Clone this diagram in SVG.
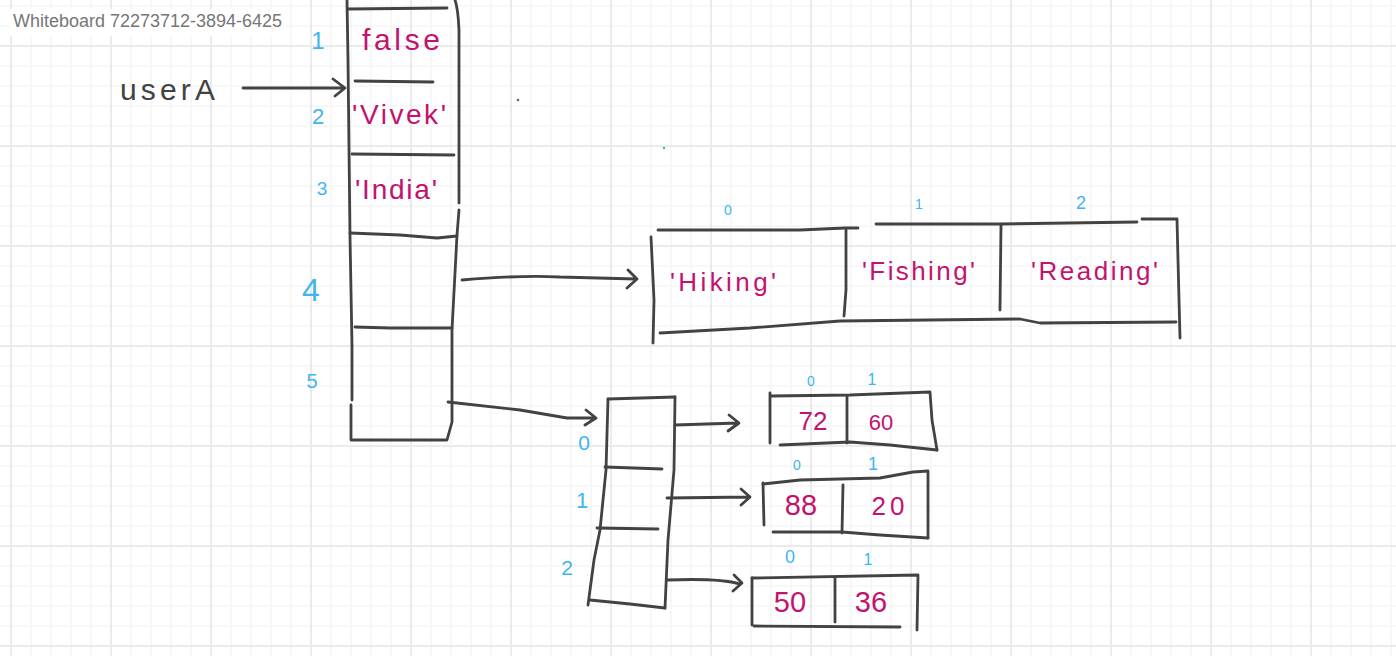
<svg xmlns="http://www.w3.org/2000/svg" width="1396" height="656" viewBox="0 0 1396 656">
<defs>
<pattern id="minor" x="10" y="5" width="20" height="20" patternUnits="userSpaceOnUse">
<path d="M0,1 H20 M1,0 V20" fill="none" stroke="#f5f5f5" stroke-width="1.6"/>
</pattern>
<pattern id="major" x="10" y="45" width="100" height="100" patternUnits="userSpaceOnUse">
<path d="M0,1 H100 M1,0 V100" fill="none" stroke="#ebebeb" stroke-width="2"/>
</pattern>
</defs>
<style>
.ink{fill:none;stroke:#424242;stroke-width:2.8;stroke-linecap:round;stroke-linejoin:round}
.val{fill:#c2136e;font-family:"Liberation Sans","Noto Sans",sans-serif}
.idx{fill:#40b5ef;font-family:"Liberation Sans","Noto Sans",sans-serif;text-anchor:middle}
.lbl{fill:#424242;font-family:"Liberation Sans","Noto Sans",sans-serif}
</style>
<rect width="1396" height="656" fill="#ffffff"/>
<rect width="1396" height="656" fill="url(#minor)"/>
<rect width="1396" height="656" fill="url(#major)"/>
<rect x="10" y="9" width="276" height="27" fill="#ffffff"/>
<text x="13" y="27" font-family="Liberation Sans, Arial, sans-serif" font-size="17.5" fill="#767676" textLength="269" lengthAdjust="spacingAndGlyphs">Whiteboard 72273712-3894-6425</text>
<circle cx="518" cy="100" r="1.3" fill="#666"/>
<circle cx="664" cy="148" r="1.2" fill="#5aa"/>

<g id="userA">
<text class="lbl" x="120" y="100" font-size="30" textLength="95" lengthAdjust="spacing">userA</text>
</g>

<g id="main-object">
<path class="ink" d="M347,0 L348,60 L350,237 L352,345 L352,400 M351,405 L351,440 L447,440 L452,422 L452,330 L457,235 L459,210 M459,203 L459,30 Q458,8 455,0"/>
<path class="ink" d="M348,9 L447,8"/>
<path class="ink" d="M355,81 L433,82"/>
<path class="ink" d="M352,154 L454,155"/>
<path class="ink" d="M350,233 L400,235 L437,238 L457,236"/>
<path class="ink" d="M355,327 L390,328 L452,328"/>
<text class="idx" x="318" y="49" font-size="24">1</text>
<text class="idx" x="318" y="124" font-size="22">2</text>
<text class="idx" x="322" y="195" font-size="19">3</text>
<text class="idx" x="311" y="301" font-size="32">4</text>
<text class="idx" x="312" y="388" font-size="20">5</text>
<text class="val" x="362" y="50" font-size="30" textLength="78" lengthAdjust="spacing">false</text>
<text class="val" x="352" y="124" font-size="28" textLength="94" lengthAdjust="spacing">'Vivek'</text>
<text class="val" x="355" y="199" font-size="28" textLength="82" lengthAdjust="spacing">'India'</text>
</g>

<g id="hobbies">
<path class="ink" d="M651,237 L654,300 L653,343"/>
<path class="ink" d="M658,230 L800,230 L845,228 L858,228"/>
<path class="ink" d="M846,230 L846,290 L844,316"/>
<path class="ink" d="M876,224 L1000,224 L1137,222"/>
<path class="ink" d="M1001,225 L1000,310"/>
<path class="ink" d="M1142,219 L1177,219 L1178,260 L1180,338"/>
<path class="ink" d="M660,333 L750,328 L840,321 L1020,319 L1040,323 L1176,322"/>
<text class="idx" x="728" y="215" font-size="14">0</text>
<text class="idx" x="919" y="209" font-size="14">1</text>
<text class="idx" x="1081" y="209" font-size="18">2</text>
<text class="val" x="670" y="291" font-size="26" textLength="106" lengthAdjust="spacing">'Hiking'</text>
<text class="val" x="862" y="280" font-size="26" textLength="113" lengthAdjust="spacing">'Fishing'</text>
<text class="val" x="1031" y="280" font-size="26" textLength="127" lengthAdjust="spacing">'Reading'</text>
</g>

<g id="scores">
<path class="ink" d="M608,399 L675,397"/>
<path class="ink" d="M608,399 L606,470 L600,530 L594,560 L588,605"/>
<path class="ink" d="M675,397 L674,470 L668,540 L665,608"/>
<path class="ink" d="M590,600 L630,604 L665,608"/>
<path class="ink" d="M605,467 L662,469"/>
<path class="ink" d="M597,528 L658,529"/>
<text class="idx" x="584" y="450" font-size="21">0</text>
<text class="idx" x="582" y="508" font-size="22">1</text>
<text class="idx" x="567" y="575" font-size="21">2</text>
</g>

<g id="scores-0">
<path class="ink" d="M770,393 L770,443"/>
<path class="ink" d="M771,396 L850,395 L930,392 L932,420 L937,450"/>
<path class="ink" d="M780,445 L850,442 L890,445 L937,450"/>
<path class="ink" d="M847,396 L847,443"/>
<text class="idx" x="811" y="386" font-size="14">0</text>
<text class="idx" x="872" y="385" font-size="16">1</text>
<text class="val" x="813" y="430" font-size="26" text-anchor="middle">72</text>
<text class="val" x="881" y="430" font-size="22" text-anchor="middle">60</text>
</g>

<g id="scores-1">
<path class="ink" d="M763,483 L764,525"/>
<path class="ink" d="M763,484 L800,480 L880,478 L913,472 L928,471 L928,538"/>
<path class="ink" d="M773,532 L842,532 L880,535 L928,538"/>
<path class="ink" d="M843,485 L842,533"/>
<text class="idx" x="797" y="470" font-size="14">0</text>
<text class="idx" x="873" y="470" font-size="18">1</text>
<text class="val" x="801" y="515" font-size="29" text-anchor="middle">88</text>
<text class="val" x="888" y="515" font-size="26" text-anchor="middle" textLength="33" lengthAdjust="spacing">20</text>
</g>

<g id="scores-2">
<path class="ink" d="M752,578 L752,625"/>
<path class="ink" d="M752,578 L918,575 L917,630"/>
<path class="ink" d="M754,626 L900,627"/>
<path class="ink" d="M835,578 L835,622"/>
<text class="idx" x="790" y="563" font-size="18">0</text>
<text class="idx" x="868" y="565" font-size="16">1</text>
<text class="val" x="790" y="612" font-size="29" text-anchor="middle">50</text>
<text class="val" x="871" y="612" font-size="29" text-anchor="middle">36</text>
</g>

<g id="connectors">
<path class="ink" d="M243,88 L343,88 M333,79 L345,88 L335,96"/>
<path class="ink" d="M462,280 Q520,275 560,277 L636,279 M628,270 L637,279 L627,288"/>
<path class="ink" d="M448,402 L520,410 L567,418 L595,418 M586,410 L596,418 L585,425"/>
<path class="ink" d="M675,425 L738,423 M729,415 L739,423 L728,431"/>
<path class="ink" d="M667,498 L750,497 M741,489 L750,497 L741,505"/>
<path class="ink" d="M667,580 Q720,578 740,584 M734,575 L742,583 L733,591"/>
</g>
</svg>
